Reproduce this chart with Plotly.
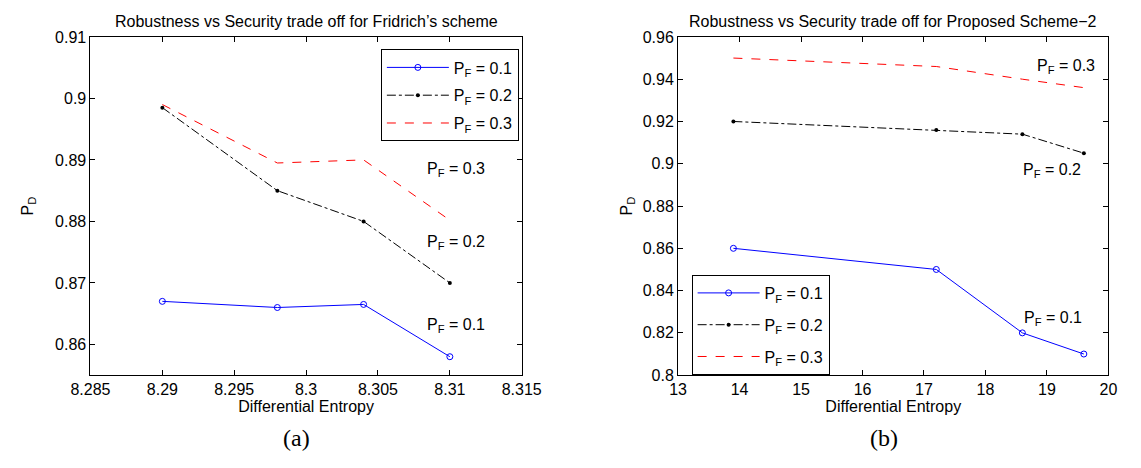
import plotly.graph_objects as go

# Panel (a): Fridrich's scheme
x_a = [8.29, 8.298, 8.304, 8.31]
pf01_a = [0.867, 0.866, 0.8665, 0.858]
pf02_a = [0.8985, 0.885, 0.880, 0.870]
pf03_a = [0.899, 0.8895, 0.890, 0.8802]

# Panel (b): Proposed Scheme-2
x_b = [13.9, 17.2, 18.6, 19.6]
pf01_b = [0.86, 0.85, 0.82, 0.81]
pf02_b = [0.92, 0.916, 0.914, 0.905]
pf03_b = [0.95, 0.946, 0.940, 0.936]

names = ["P<sub>F</sub> = 0.1", "P<sub>F</sub> = 0.2", "P<sub>F</sub> = 0.3"]
xticks_a = [8.285, 8.29, 8.295, 8.3, 8.305, 8.31, 8.315]
xticklabels_a = ["8.285", "8.29", "8.295", "8.3", "8.305", "8.31", "8.315"]
yticks_a = [0.86, 0.87, 0.88, 0.89, 0.9, 0.91]
yticklabels_a = ["0.86", "0.87", "0.88", "0.89", "0.9", "0.91"]
xticks_b = [13, 14, 15, 16, 17, 18, 19, 20]
yticks_b = [0.8, 0.82, 0.84, 0.86, 0.88, 0.9, 0.92, 0.94, 0.96]
yticklabels_b = ["0.8", "0.82", "0.84", "0.86", "0.88", "0.9", "0.92", "0.94", "0.96"]

FONT = "Liberation Sans, Arial, sans-serif"

styles = [
    dict(line=dict(color="#0000ff", width=1), marker=dict(symbol="circle-open", size=6, color="#0000ff", line=dict(width=1)), mode="lines+markers"),
    dict(line=dict(color="black", width=1, dash="dashdot"), marker=dict(symbol="circle", size=4, color="black"), mode="lines+markers"),
    dict(line=dict(color="#ff0000", width=1, dash="dash"), mode="lines"),
]

fig = go.Figure()
for i, (ys, nm, st) in enumerate(zip([pf01_a, pf02_a, pf03_a], names, styles)):
    fig.add_trace(go.Scatter(x=x_a, y=ys, name=nm, xaxis="x", yaxis="y", legend="legend",
                             legendgroup=f"a{i}", **st))
for i, (ys, nm, st) in enumerate(zip([pf01_b, pf02_b, pf03_b], names, styles)):
    fig.add_trace(go.Scatter(x=x_b, y=ys, name=nm, xaxis="x2", yaxis="y2", legend="legend2",
                             legendgroup=f"b{i}", **st))

axis_common = dict(showline=True, linecolor="black", linewidth=1, mirror="ticks", ticks="inside",
                   ticklen=5, tickcolor="black", showgrid=False, zeroline=False,
                   tickfont=dict(family=FONT, size=16, color="black"))

fig.update_layout(
    width=1141, height=468,
    margin=dict(l=0, r=0, t=0, b=0),
    paper_bgcolor="white", plot_bgcolor="white",
    font=dict(family=FONT, color="black"),
    xaxis=dict(domain=[0.064, 0.4557], range=[8.285, 8.315], tickvals=xticks_a, ticktext=xticklabels_a,
               title=dict(text="Differential Entropy", font=dict(size=16, family=FONT), standoff=0), **axis_common),
    yaxis=dict(domain=[0.1859, 0.9359], range=[0.855, 0.91], tickvals=yticks_a, ticktext=yticklabels_a,
               title=dict(text="P<sub>D</sub>", font=dict(size=16, family=FONT), standoff=17), anchor="x", **axis_common),
    xaxis2=dict(domain=[0.5977, 0.9886], range=[13, 20], tickvals=xticks_b, anchor="y2",
                title=dict(text="Differential Entropy", font=dict(size=16, family=FONT), standoff=0), **axis_common),
    yaxis2=dict(domain=[0.1859, 0.9359], range=[0.8, 0.96], tickvals=yticks_b, ticktext=yticklabels_b, anchor="x2",
                title=dict(text="P<sub>D</sub>", font=dict(size=16, family=FONT), standoff=6), **axis_common),
    legend=dict(x=0.4531, xanchor="right", y=0.908, yanchor="top", bgcolor="white",
                bordercolor="black", borderwidth=1, font=dict(size=16, family=FONT),
                itemwidth=62, tracegroupgap=4),
    legend2=dict(x=0.61, xanchor="left", y=0.408, yanchor="top", bgcolor="white",
                 bordercolor="black", borderwidth=1, font=dict(size=16, family=FONT),
                 itemwidth=62, tracegroupgap=8),
    showlegend=True,
)

anns = [
    dict(text="Robustness vs Security trade off for Fridrich\u2019s scheme", x=296.5, y=14, size=16, fam=FONT),
    dict(text="Robustness vs Security trade off for Proposed Scheme\u22122", x=905, y=14, size=16, fam=FONT),
    dict(text="(a)", x=287, y=446, size=24, fam="Liberation Serif, Times New Roman, serif"),
    dict(text="(b)", x=895, y=446, size=24, fam="Liberation Serif, Times New Roman, serif"),
]
for a in anns:
    fig.add_annotation(text=a["text"], x=a["x"] / 1141, y=1 - a["y"] / 468, xref="paper", yref="paper",
                       showarrow=False, xanchor="center", yanchor="middle",
                       font=dict(size=a["size"], family=a["fam"], color="black"))

# In-plot labels (data coordinates)
labels = [
    ("x", "y", 8.3104, 0.8885, names[2]),
    ("x", "y", 8.3104, 0.8765, names[1]),
    ("x", "y", 8.3104, 0.8630, names[0]),
    ("x2", "y2", 19.31, 0.9462, names[2]),
    ("x2", "y2", 19.09, 0.8967, names[1]),
    ("x2", "y2", 19.1, 0.8267, names[0]),
]
for xr, yr, xv, yv, t in labels:
    fig.add_annotation(text=t, x=xv, y=yv, xref=xr, yref=yr, showarrow=False, xanchor="center",
                       yanchor="middle", font=dict(size=16, family=FONT, color="black"))

fig.write_html("out.html")
